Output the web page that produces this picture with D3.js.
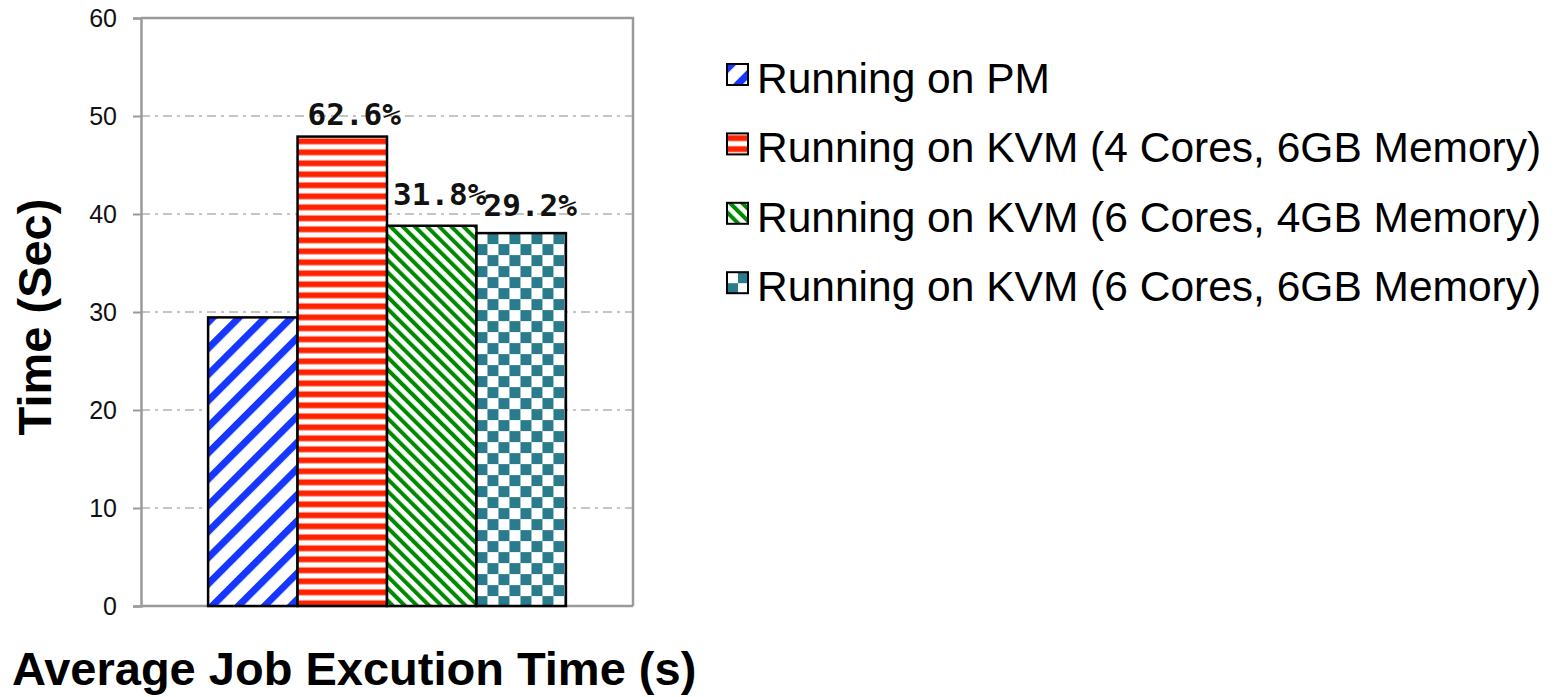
<!DOCTYPE html>
<html>
<head>
<meta charset="utf-8">
<script src="https://cdn.jsdelivr.net/npm/d3@7"></script>
<style>
  html, body { margin: 0; padding: 0; background: #fff; }
  svg { display: block; }
  text { font-family: "Liberation Sans", Arial, sans-serif; }
</style>
</head>
<body>
<svg id="chart" width="1558" height="697"></svg>
<script>
// Series (one bar each) and their measured times in seconds
const seriesNames = [
  "Running on PM",
  "Running on KVM (4 Cores, 6GB Memory)",
  "Running on KVM (6 Cores, 4GB Memory)",
  "Running on KVM (6 Cores, 6GB Memory)"
];
const seriesTimes = [29.45, 47.9, 38.8, 38.05];
// Slowdown relative to the physical machine, as printed above each bar
const slowdownLabels = ["", "62.6%", "31.8%", "29.2%"];
const yTicks = [0, 10, 20, 30, 40, 50, 60];
const yTitle = "Time (Sec)";
const xTitle = "Average Job Excution Time (s)";

// Fill style for each series
const fills = [
  { kind: "diag", dir: 1, color: "#1537ff", period: 18.5, band: 7 },
  { kind: "horiz", color: "#ff2200", period: 11, band: 5.5 },
  { kind: "diag", dir: -1, color: "#008a00", period: 8.6, band: 4 },
  { kind: "check", color: "#2a7b8c", cell: 11 }
];
// Nudges for the percentage labels (x, baseline gap above bar)
const labelShift = [[0, 0], [12, 12], [8, 21], [9, 17]];

const svg = d3.select("#chart");
const plot = { left: 141, right: 633, top: 18, bottom: 606 };

const y = d3.scaleLinear().domain([0, 60]).range([plot.bottom, plot.top]);
const x = d3.scaleBand().domain(seriesNames)
  .range([plot.left, plot.right]).paddingInner(0).paddingOuter(0.75);

const defs = svg.append("defs");
let patCount = 0;
function makePattern(f, ox, oy) {
  const id = "pat" + (patCount++);
  let p;
  if (f.kind === "diag") {
    p = defs.append("pattern").attr("id", id).attr("patternUnits", "userSpaceOnUse")
      .attr("width", f.period).attr("height", f.period)
      .attr("patternTransform", `translate(${ox},${oy}) rotate(${45 * f.dir})`);
    p.append("rect").attr("width", f.period).attr("height", f.period).attr("fill", "#fff");
    p.append("rect").attr("x", 0).attr("width", f.band).attr("height", f.period).attr("fill", f.color);
  } else if (f.kind === "horiz") {
    p = defs.append("pattern").attr("id", id).attr("patternUnits", "userSpaceOnUse")
      .attr("width", 20).attr("height", f.period)
      .attr("patternTransform", `translate(${ox},${oy})`);
    p.append("rect").attr("width", 20).attr("height", f.period).attr("fill", "#fff");
    p.append("rect").attr("y", 1.5).attr("width", 20).attr("height", f.band + 1).attr("fill", "#ffb8a8");
    p.append("rect").attr("y", 2).attr("width", 20).attr("height", f.band).attr("fill", f.color);
  } else {
    const c = f.cell;
    p = defs.append("pattern").attr("id", id).attr("patternUnits", "userSpaceOnUse")
      .attr("width", 2 * c).attr("height", 2 * c)
      .attr("patternTransform", `translate(${ox},${oy})`);
    p.append("rect").attr("width", 2 * c).attr("height", 2 * c).attr("fill", "#fff");
    p.append("rect").attr("x", c).attr("y", 0).attr("width", c).attr("height", c).attr("fill", f.color);
    p.append("rect").attr("x", 0).attr("y", c).attr("width", c).attr("height", c).attr("fill", f.color);
  }
  return "url(#" + id + ")";
}

// Plot background
svg.append("rect").attr("width", 1558).attr("height", 697).attr("fill", "#fff");

// Dash-dot horizontal gridlines
svg.append("g")
  .selectAll("line")
  .data(yTicks.filter(t => t > 0 && t < 60))
  .join("line")
  .attr("x1", plot.left).attr("x2", plot.right)
  .attr("y1", d => y(d)).attr("y2", d => y(d))
  .attr("stroke", "#b3b3b3").attr("stroke-width", 1.5)
  .attr("stroke-dasharray", "9,5,3,5");

// Frame: top and right border
svg.append("path")
  .attr("d", `M${plot.left},${plot.top}H${plot.right}V${plot.bottom}`)
  .attr("fill", "none").attr("stroke", "#9a9a9a").attr("stroke-width", 2.5);

// Y axis
const yAxis = d3.axisLeft(y).tickValues(yTicks).tickSize(8).tickPadding(16)
  .tickFormat(d3.format("d"));
const gy = svg.append("g").attr("transform", `translate(${plot.left},0)`).call(yAxis);
gy.select(".domain").attr("stroke", "#9a9a9a").attr("stroke-width", 2.5);
gy.selectAll(".tick line").attr("stroke", "#9a9a9a").attr("stroke-width", 2);
gy.selectAll(".tick text")
  .attr("font-family", "'Liberation Sans', Arial, sans-serif")
  .attr("font-size", 25).attr("fill", "#111");

// Baseline
svg.append("line")
  .attr("x1", plot.left).attr("x2", plot.right)
  .attr("y1", y(0)).attr("y2", y(0))
  .attr("stroke", "#9a9a9a").attr("stroke-width", 2.5);

// Bars
const bars = svg.append("g");
seriesNames.forEach((name, i) => {
  const bx = x(name), by = y(seriesTimes[i]);
  bars.append("rect")
    .attr("x", bx).attr("y", by)
    .attr("width", x.bandwidth()).attr("height", y(0) - by)
    .attr("fill", makePattern(fills[i], bx, by))
    .attr("stroke", "#000").attr("stroke-width", 2.5);
});

// Percentage labels
svg.append("g")
  .selectAll("text")
  .data(seriesNames.map((n, i) => ({ n, i })).filter(d => slowdownLabels[d.i]))
  .join("text")
  .attr("x", d => x(d.n) + x.bandwidth() / 2 + labelShift[d.i][0])
  .attr("y", d => y(seriesTimes[d.i]) - labelShift[d.i][1])
  .attr("text-anchor", "middle")
  .style("font-family", "'DejaVu Sans Mono', monospace")
  .attr("font-weight", "bold").attr("font-size", 31).attr("fill", "#111")
  .text(d => slowdownLabels[d.i]);

// Axis titles
svg.append("text")
  .attr("transform", `translate(51,317) rotate(-90)`)
  .attr("text-anchor", "middle")
  .attr("font-weight", "bold").attr("font-size", 47).attr("fill", "#000")
  .text(yTitle);
svg.append("text")
  .attr("x", 12).attr("y", 685)
  .attr("font-weight", "bold").attr("font-size", 47).attr("fill", "#000")
  .text(xTitle);

// Legend
const legend = svg.append("g");
seriesNames.forEach((name, i) => {
  const ly = 64 + i * 69.4;
  legend.append("rect")
    .attr("x", 727).attr("y", ly).attr("width", 21).attr("height", 21)
    .attr("fill", makePattern(fills[i], 727, ly))
    .attr("stroke", "#000").attr("stroke-width", 2);
  legend.append("text")
    .attr("x", 757).attr("y", ly + 29)
    .attr("font-size", 42.5).attr("fill", "#000")
    .text(name);
});
</script>
</body>
</html>
